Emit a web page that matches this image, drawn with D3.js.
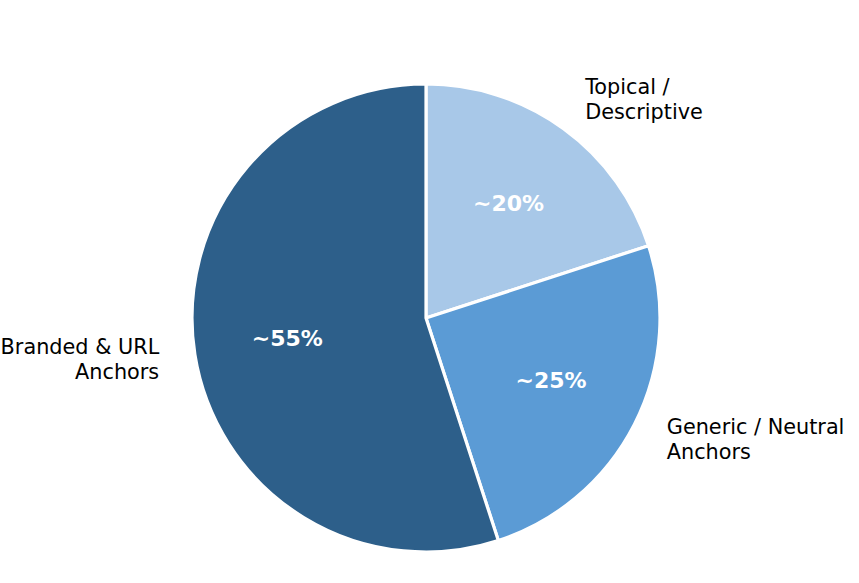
<!DOCTYPE html>
<html><head><meta charset="utf-8">
<script src="https://cdn.jsdelivr.net/npm/d3@7/dist/d3.min.js"></script>
<style>body{margin:0;background:#fff}svg{display:block}</style>
</head><body><svg id="c" width="859" height="583"></svg>
<script>
const categories = ["Topical /\nDescriptive", "Generic / Neutral\nAnchors", "Branded & URL\nAnchors"];
const values = [20, 25, 55];
const pctLabels = ["~20%", "~25%", "~55%"];
const colors = ["#a8c8e8", "#5b9bd5", "#2d5f8a"];

const svg = d3.select("#c");
const cx = 426, cy = 318, r = 234;
const g = svg.append("g").attr("transform", `translate(${cx},${cy})`);
const pie = d3.pie().sort(null).value(d => d)(values);
const arc = d3.arc().innerRadius(0).outerRadius(r);
g.selectAll("path").data(pie).join("path")
  .attr("d", arc).attr("fill", (d,i) => colors[i])
  .attr("stroke", "#fff").attr("stroke-width", 3.2).attr("stroke-linejoin","round");

const font = "DejaVu Sans";
pie.forEach((d, i) => {
  const a = (d.startAngle + d.endAngle) / 2;
  const lx = Math.sin(a) * r * 1.15 + (Math.sin(a) > 0 ? 1 : -1), ly = -Math.cos(a) * r * 1.15;
  const lines = categories[i].split("\n");
  const lh = 25, fs = 20.8;
  const t = g.append("text").attr("font-family", font).attr("font-size", fs)
    .attr("fill", "#000").attr("text-anchor", lx > 0 ? "start" : "end");
  lines.forEach((ln, j) => {
    t.append("tspan").attr("x", lx).attr("y", ly - 1 + (j - (lines.length-1)/2) * lh)
      .attr("dy", "0.35em").text(ln);
  });
  const px = Math.sin(a) * r * 0.6, py = -Math.cos(a) * r * 0.6;
  g.append("text").attr("font-family", font).attr("font-size", 22).attr("font-weight", "bold")
    .attr("fill", "#fff").attr("text-anchor", "middle").attr("x", px).attr("y", py - 1.5)
    .attr("dy", "0.35em").text(pctLabels[i]);
});
</script></body></html>
